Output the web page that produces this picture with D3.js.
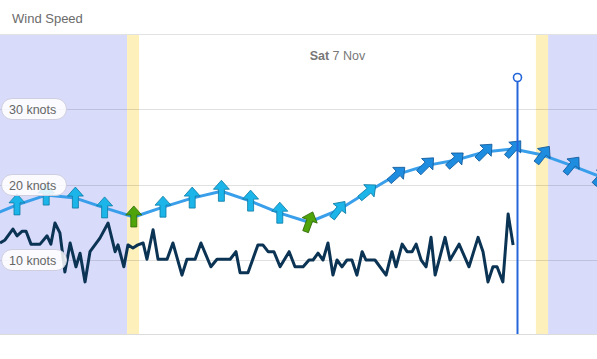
<!DOCTYPE html>
<html><head><meta charset="utf-8">
<script src="https://cdn.jsdelivr.net/npm/d3@7"></script>
<style>
html,body{margin:0;padding:0;background:#fff;}
svg{display:block;font-family:"Liberation Sans",Arial,sans-serif;}
</style></head>
<body><svg id="c" width="597" height="359"></svg>
<script>
// ---- data ----
const title = "Wind Speed";
const dayLabelBold = "Sat";
const dayLabelRest = " 7 Nov";
const yTicks = [10, 20, 30];
const yTickLabels = ["10 knots", "20 knots", "30 knots"];
// times in hours of the day
const civilDawn = 5.77, sunrise = 6.18, sunset = 19.77, civilDusk = 20.19;
const nowTime = 19.12;
const forecastHours = [1,2,3,4,5,6,7,8,9,10,11,12,13,14,15,16,17,18,19,20,21,22];
const forecastKnots = [15.7,17.3,18.6,18.2,16.9,15.7,17.0,18.2,19.1,17.8,16.2,15.0,16.6,19.0,21.3,22.5,23.2,24.3,24.7,23.9,22.5,21.0];
const forecastDir = [0,0,0,0,0,0,0,0,0,0,0,20,38,50,48,45,48,45,42,38,40,42];
const obsHours = [1.42,1.59,1.86,2.00,2.17,2.31,2.48,2.79,3.03,3.16,3.30,3.47,3.64,3.82,4.02,4.16,4.33,4.50,4.84,5.12,5.36,5.46,5.66,5.80,5.97,6.14,6.32,6.45,6.66,6.83,7.14,7.34,7.65,7.82,8.10,8.30,8.64,8.85,9.30,9.50,9.64,9.91,10.25,10.42,10.60,10.80,11.01,11.32,11.52,11.80,12.00,12.14,12.31,12.48,12.65,12.82,12.96,13.13,13.30,13.47,13.64,13.82,13.95,14.26,14.64,14.84,14.98,15.19,15.36,15.53,15.67,15.84,16.01,16.18,16.32,16.66,16.83,17.14,17.48,17.79,17.96,18.13,18.30,18.44,18.64,18.82,18.99];
const obsKnots = [12.25,12.65,14.1,13.2,13.8,13.8,12.1,12.1,13.2,12.1,14.9,13.6,8.4,12.25,9.1,10.9,7.1,11.1,12.9,14.9,11.1,12.0,9.1,12.0,11.6,12.0,12.25,10.1,14.0,10.1,10.1,12.25,8.0,10.1,10.1,12.25,9.1,10.1,10.1,11.1,8.3,8.3,12.0,12.0,11.1,11.1,9.1,11.1,9.1,9.1,10.0,10.0,10.9,10.0,12.25,8.0,10.0,9.1,10.0,10.0,8.0,11.1,10.0,10.0,8.0,11.1,9.1,12.1,11.1,11.1,12.1,10.0,9.1,13.0,8.0,13.0,10.0,12.1,9.1,13.0,11.1,7.1,9.1,9.1,7.1,16.1,12.0];

// ---- layout ----
const W = 597, H = 359;
const plotTop = 35, plotBottom = 334;
const svg = d3.select("#c");
const x = d3.scaleLinear().domain([1.418, 1.418 + W / 29.2]).range([0, W]);
const y = d3.scaleLinear().domain([0, 40]).range([335.5, 33.5]);

// title
svg.append("text").attr("x", 12).attr("y", 23).attr("font-size", 13).attr("fill", "#6b6b6b").text(title);
svg.append("line").attr("x1", 0).attr("x2", W).attr("y1", plotTop - 0.5).attr("y2", plotTop - 0.5).attr("stroke", "#e2e2e2");

svg.append("clipPath").attr("id", "pc").append("rect").attr("x", 0).attr("y", plotTop).attr("width", W).attr("height", plotBottom - plotTop);
const g = svg.append("g").attr("clip-path", "url(#pc)");

// night / twilight bands
const bands = [
  [x.domain()[0], civilDawn, "#d9dbfb"],
  [civilDawn, sunrise, "#fdf0bb"],
  [sunset, civilDusk, "#fdf0bb"],
  [civilDusk, x.domain()[1], "#d9dbfb"]
];
g.selectAll("rect.band").data(bands).enter().append("rect")
  .attr("x", d => x(d[0])).attr("width", d => x(d[1]) - x(d[0]))
  .attr("y", plotTop).attr("height", plotBottom - plotTop).attr("fill", d => d[2]);

// gridlines
g.selectAll("line.grid").data(yTicks).enter().append("line")
  .attr("x1", 0).attr("x2", W).attr("y1", d => Math.round(y(d)) + 0.5).attr("y2", d => Math.round(y(d)) + 0.5)
  .attr("stroke", "#000").attr("stroke-opacity", 0.12);

// bottom border
svg.append("line").attr("x1", 0).attr("x2", W).attr("y1", plotBottom + 0.5).attr("y2", plotBottom + 0.5).attr("stroke", "#dcdcdc");

// day label
const dl = svg.append("text").attr("x", x((sunrise + sunset) / 2)).attr("y", 60)
  .attr("text-anchor", "middle").attr("font-size", 12.5).attr("fill", "#777");
dl.append("tspan").attr("font-weight", "bold").text(dayLabelBold);
dl.append("tspan").text(dayLabelRest);

// forecast line
const fData = forecastHours.map((h, i) => ({h, v: forecastKnots[i], d: forecastDir[i]}));
const line = d3.line().x(d => x(d.h)).y(d => y(d.v)).curve(d3.curveLinear);
g.append("path").datum(fData).attr("d", line).attr("fill", "none")
  .attr("stroke", "#3a9fea").attr("stroke-width", 3).attr("stroke-linejoin", "round");

// observed line
const oData = obsHours.map((h, i) => ({h, v: obsKnots[i]}));
g.append("path").datum(oData).attr("d", line).attr("fill", "none")
  .attr("stroke", "#0b3354").attr("stroke-width", 3).attr("stroke-linejoin", "round");

// y labels
const yl = svg.selectAll("g.yl").data(yTicks).enter().append("g")
  .attr("transform", d => `translate(0,${Math.round(y(d))})`);
yl.append("rect").attr("x", 1.5).attr("y", -10.5).attr("width", 65).attr("height", 21).attr("rx", 10.5)
  .attr("fill", "#fff").attr("fill-opacity", 0.85).attr("stroke", "#cfcfe0");
yl.append("text").attr("x", 9).attr("y", 4.5).attr("font-size", 12.5).attr("fill", "#666")
  .text(d => yTickLabels[yTicks.indexOf(d)]);

// arrows
function fillFor(v) { return v < 16 ? "#4fa40c" : (v < 20 ? "#1bb5ea" : "#1e8de0"); }
function strokeFor(v) { return v < 16 ? "#2f6a06" : (v < 20 ? "#0e7aa3" : "#11589a"); }
const arrowPath = "M0,-11 L8,-2 L3,-2 L3,10 L-3,10 L-3,-2 L-8,-2 Z";
g.selectAll("path.arrow").data(fData).enter().append("path")
  .attr("d", arrowPath)
  .attr("transform", d => `translate(${x(d.h)},${y(d.v)}) rotate(${d.d})`)
  .attr("fill", d => fillFor(d.v)).attr("stroke", d => strokeFor(d.v)).attr("stroke-width", 0.8)
  .attr("stroke-linejoin", "round");

// now line
const nx = Math.round(x(nowTime)) + 0.5;
svg.append("line").attr("x1", nx).attr("x2", nx).attr("y1", 82).attr("y2", plotBottom)
  .attr("stroke", "#2466da").attr("stroke-width", 2);
svg.append("circle").attr("cx", nx).attr("cy", 77.5).attr("r", 4)
  .attr("fill", "#fff").attr("stroke", "#2466da").attr("stroke-width", 1.6);
</script></body></html>
